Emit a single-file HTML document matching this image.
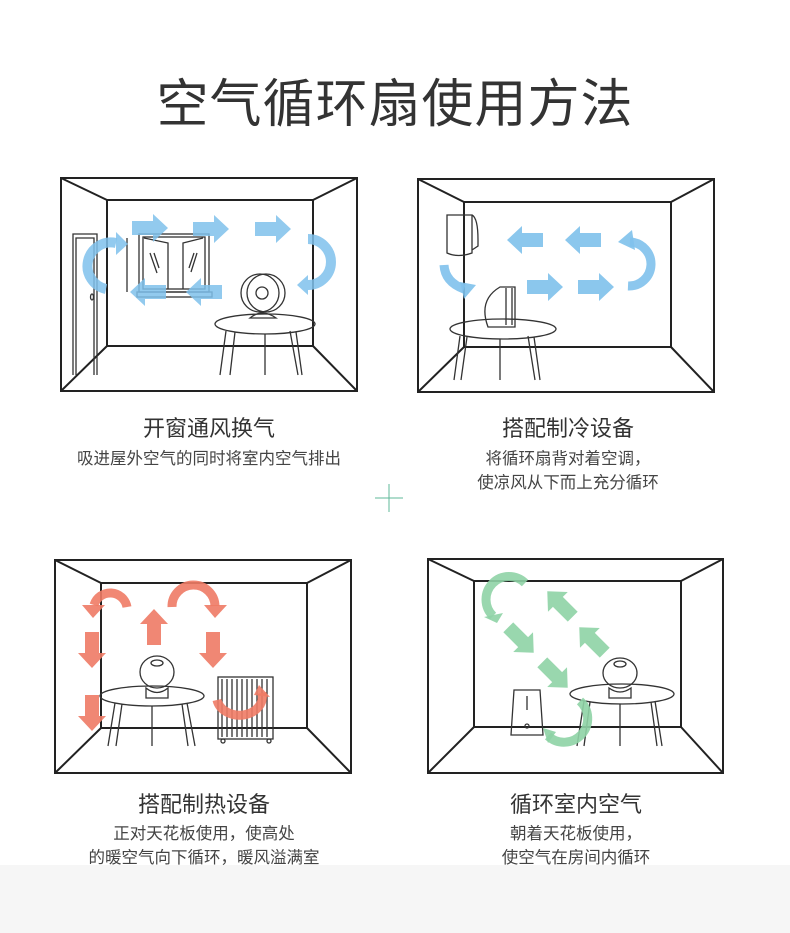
<!DOCTYPE html>
<html><head><meta charset="utf-8"><style>
html,body{margin:0;padding:0;background:#fff}
body{width:790px;height:933px;position:relative;overflow:hidden;font-family:"Liberation Sans","Noto Sans CJK SC",sans-serif}
.t{position:absolute;text-align:center;color:#333;white-space:nowrap}
.h{font-size:22px;line-height:26px}
.d{font-size:16.5px;color:#444;line-height:24px}
</style></head><body>
<div style="position:absolute;left:0;top:865px;width:790px;height:68px;background:#f6f6f6"></div>
<div class="t" style="left:0;width:790px;top:62px;font-size:52px;letter-spacing:1px;color:#333;">空气循环扇使用方法</div>

<div class="t h" style="left:59px;width:300px;top:416px">开窗通风换气</div>
<div class="t d" style="left:59px;width:300px;top:447px">吸进屋外空气的同时将室内空气排出</div>
<div class="t h" style="left:418px;width:300px;top:416px">搭配制冷设备</div>
<div class="t d" style="left:418px;width:300px;top:447px">将循环扇背对着空调，<br>使凉风从下而上充分循环</div>
<div class="t h" style="left:54px;width:300px;top:792px">搭配制热设备</div>
<div class="t d" style="left:54px;width:300px;top:822px">正对天花板使用，使高处<br>的暖空气向下循环，暖风溢满室</div>
<div class="t h" style="left:426px;width:300px;top:792px">循环室内空气</div>
<div class="t d" style="left:426px;width:300px;top:822px">朝着天花板使用，<br>使空气在房间内循环</div>

<svg width="790" height="933" style="position:absolute;left:0;top:0" xmlns="http://www.w3.org/2000/svg">
<defs>
<polygon id="ar" points="-18,-7 3,-7 3,-14 18,0 3,14 3,7 -18,7"/>
</defs>
<g stroke="#5fb89a" stroke-width="1"><line x1="375" y1="498" x2="403" y2="498"/><line x1="389" y1="484" x2="389" y2="512"/></g>

<g fill="none" stroke="#222" stroke-width="2">
<rect x="61" y="178" width="296" height="213"/>
<rect x="107" y="200" width="206" height="146"/>
<path d="M61 178L107 200M357 178L313 200M61 391L107 346M357 391L313 346"/>
<rect x="418" y="179" width="296" height="213"/>
<rect x="464" y="202" width="207" height="145"/>
<path d="M418 179L464 202M714 179L671 202M418 392L464 347M714 392L671 347"/>
<rect x="55" y="560" width="296" height="213"/>
<rect x="101" y="583" width="206" height="145"/>
<path d="M55 560L101 583M351 560L307 583M55 773L101 728M351 773L307 728"/>
<rect x="428" y="559" width="295" height="214"/>
<rect x="474" y="581" width="207" height="146"/>
<path d="M428 559L474 581M723 559L681 581M428 773L474 727M723 773L681 727"/>
</g>

<g fill="none" stroke="#333" stroke-width="1.3">
<path d="M73 375V234H97V375M76 375V238H94V375"/>
<ellipse cx="92" cy="297" rx="1.5" ry="3"/>
<rect x="139" y="234" width="70" height="58"/><rect x="143" y="237" width="62" height="52"/>
<path d="M144 238L168 243V289M203 238L183 243V289M150 253L157 273M154 253L159 268M194 253L189 268M197 253L191 272"/>
<rect x="137" y="292" width="75" height="5"/><line x1="127" y1="238" x2="127" y2="292"/>
<ellipse cx="265" cy="324" rx="50" ry="10"/>
<path d="M226 331L220 375M235 332L230 375M265 334V375M296 332L302 375M290 331L298 375"/>
<circle cx="260" cy="293" r="19"/><circle cx="266" cy="293" r="19"/><circle cx="262" cy="293" r="6"/>
<path d="M250 318Q262 308 276 318Z"/>
<path d="M447 215H472V253Q458 258 447 253Z M472 215Q478 218 478 240V246L472 250"/>
<ellipse cx="503" cy="329" rx="53" ry="10"/>
<path d="M460 336L454 380M467 337L461 380M500 339V380M534 337L540 380M528 336L535 380"/>
<path d="M488 327Q478 300 500 287H515V327Z"/><path d="M506 288V325M512 288V325"/>
<ellipse cx="152" cy="696" rx="52" ry="10"/>
<path d="M115 703L108 746M122 704L116 746M152 706V746M182 704L188 746M187 703L195 746"/>
<ellipse cx="157" cy="672" rx="17" ry="16"/><ellipse cx="157" cy="663" rx="6" ry="3"/>
<path d="M146 688Q157 697 168 688V698H146Z"/>
<rect x="218" y="677" width="55" height="62"/>
<path d="M222 679V737M227 679V737M232 679V737M237 679V737M242 679V737M247 679V737M252 679V737M257 679V737M262 679V737M267 679V737"/>
<circle cx="223" cy="741" r="2"/><circle cx="269" cy="741" r="2"/>
<path d="M514 690H540L543 735H511Z"/><line x1="527" y1="696" x2="527" y2="710"/><circle cx="527" cy="726" r="2"/>
<ellipse cx="622" cy="694" rx="52" ry="10"/>
<path d="M584 701L577 746M590 702L584 746M620 704V746M651 702L657 746M655 701L662 746"/>
<ellipse cx="620" cy="673" rx="17" ry="15"/><ellipse cx="620" cy="664" rx="6" ry="3"/>
<path d="M609 688Q620 696 631 688V698H609Z"/>
</g>

<g fill="#7fc1ec" opacity="0.85">
<use href="#ar" transform="translate(150,228)"/>
<use href="#ar" transform="translate(211,229)"/>
<use href="#ar" transform="translate(273,229)"/>
<use href="#ar" transform="translate(148,292) rotate(180)"/>
<use href="#ar" transform="translate(204,292) rotate(180)"/>
<polygon points="116,232 128,244 116,255"/>
<polygon points="308,275 297,285 308,295"/>
</g>
<g fill="none" stroke="#7fc1ec" stroke-width="10" opacity="0.85">
<path d="M106 289A22 22 0 0 1 116 243"/>
<path d="M308 239A22 22 0 0 1 308 285"/>
</g>
<g fill="#7fc1ec" opacity="0.9">
<use href="#ar" transform="translate(525,240) rotate(180)"/>
<use href="#ar" transform="translate(583,240) rotate(180)"/>
<use href="#ar" transform="translate(545,287)"/>
<use href="#ar" transform="translate(596,287)"/>
<polygon points="460,282 476,285 464,299"/>
<polygon points="618,242 632,230 635,250"/>
</g>
<g fill="none" stroke="#7fc1ec" stroke-width="9" opacity="0.9">
<path d="M444 265Q445 282 464 289"/>
<path d="M628 286A22 22 0 0 0 630 242"/>
</g>
<g fill="#ef7b65" opacity="0.9">
<use href="#ar" transform="translate(92,650) rotate(90)"/>
<use href="#ar" transform="translate(92,713) rotate(90)"/>
<use href="#ar" transform="translate(213,650) rotate(90)"/>
<use href="#ar" transform="translate(154,627) rotate(-90)"/>
<polygon points="82,605 105,605 93,618"/>
<polygon points="204,605 227,605 215,618"/>
<polygon points="254,695 270,697 259,685"/>
</g>
<g fill="none" stroke="#ef7b65" stroke-width="9" opacity="0.9">
<path d="M94 605A17 17 0 0 1 127 607"/>
<path d="M172 607A17 17 0 0 1 215 606"/>
<path d="M217 700A22 18 0 0 0 262 693"/>
</g>
<g fill="#8fd3a6" opacity="0.9">
<use href="#ar" transform="translate(521,640) rotate(45)"/>
<use href="#ar" transform="translate(555,675) rotate(45)"/>
<use href="#ar" transform="translate(560,604) rotate(-135)"/>
<use href="#ar" transform="translate(592,640) rotate(-135)"/>
<polygon points="484,617 503,613 497,623"/>
<polygon points="543,728 548,743 556,732"/>
</g>
<g fill="none" stroke="#8fd3a6" stroke-width="9" opacity="0.9">
<path d="M525 583A17 17 0 0 0 493 616"/>
<path d="M580 701A22 22 0 0 1 548 736"/>
</g>
</svg>
</body></html>
